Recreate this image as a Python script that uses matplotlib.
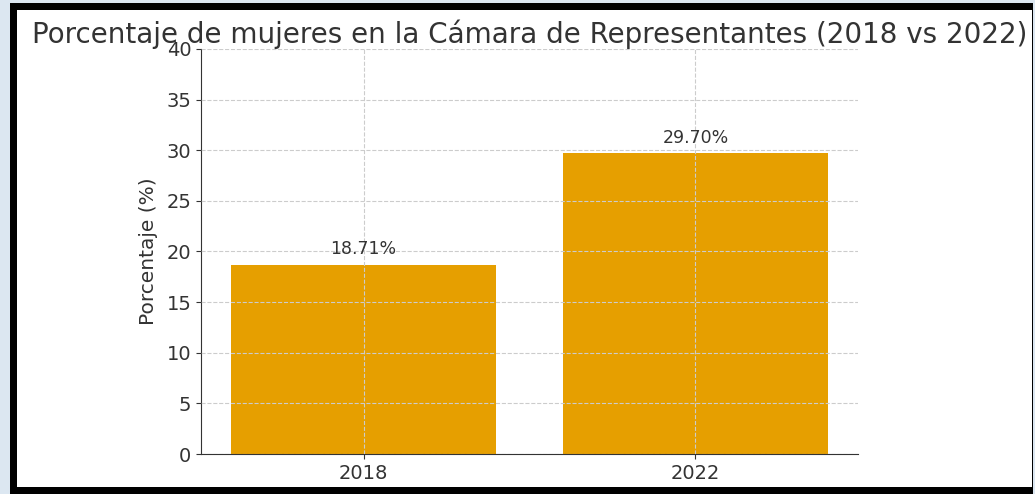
import matplotlib
matplotlib.use("Agg")
import matplotlib.pyplot as plt
from matplotlib.patches import Rectangle

# datos
years = ["2018", "2022"]
pct_mujeres = [18.71, 29.70]
labels = ["18.71%", "29.70%"]

W, H = 1035, 494
fig = plt.figure(figsize=(W / 100, H / 100), dpi=100, facecolor="#dce7f1")

# marco negro + fondo blanco (captura recortada)
fig.patches.append(Rectangle((10 / W, 0), (1033 - 10) / W, 1 - 3 / H, transform=fig.transFigure,
                             facecolor="black", edgecolor="none", zorder=0))
fig.patches.append(Rectangle((17 / W, 7 / H), (1032 - 17) / W, (484 - 7) / H,
                             transform=fig.transFigure, facecolor="white", edgecolor="none", zorder=0))

ax = fig.add_axes([201 / W, 40 / H, (858 - 201) / W, (454 - 49) / H])
ax.set_zorder(2)
ax.set_facecolor("none")

bars = ax.bar(years, pct_mujeres, color="#E69F00", width=0.8)
for b, lab in zip(bars, labels):
    ax.text(b.get_x() + b.get_width() / 2, b.get_height() + 0.6, lab,
            ha="center", va="bottom", fontsize=12.5, color="#333333")

ax.set_ylim(0, 40)
ax.set_yticks(range(0, 41, 5))
ax.set_ylabel("Porcentaje (%)", fontsize=14.5, color="#333333", labelpad=6)
ax.set_title("Porcentaje de mujeres en la Cámara de Representantes (2018 vs 2022)",
             fontsize=20, color="#333333", pad=0)
ax.tick_params(labelsize=14, colors="#333333")
ax.grid(True, linestyle="--", color="#cccccc", linewidth=0.8)
ax.set_axisbelow(False)
for s in ["top", "right"]:
    ax.spines[s].set_visible(False)
ax.spines["left"].set_color("#333333")
ax.spines["bottom"].set_color("#333333")

fig.savefig("out.png", dpi=100, facecolor=fig.get_facecolor())
